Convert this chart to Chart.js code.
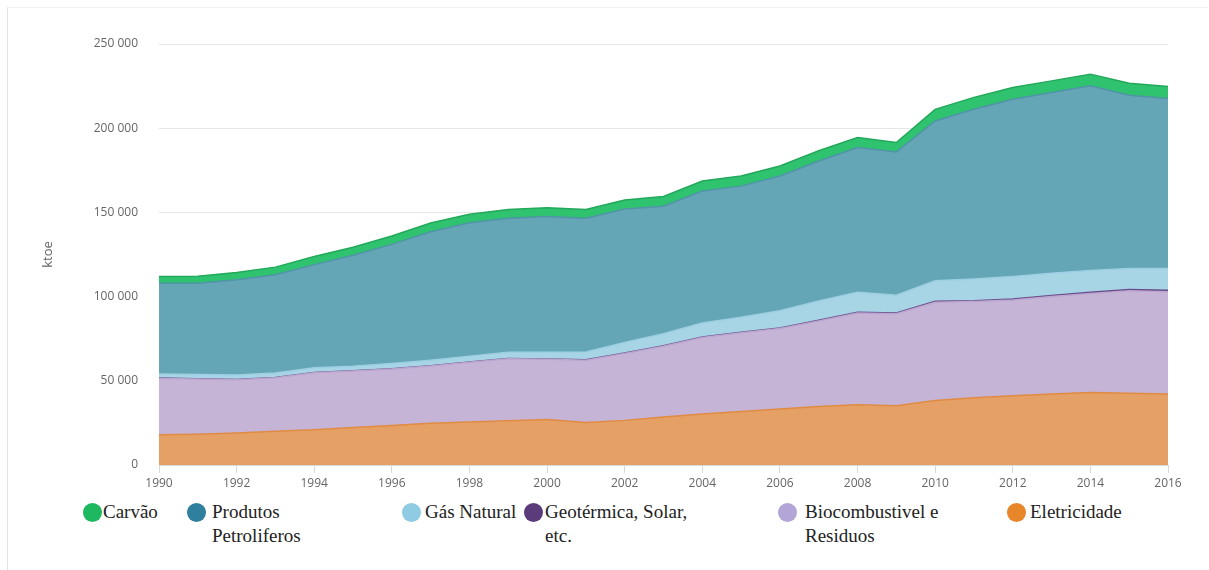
<!DOCTYPE html>
<html>
<head>
<meta charset="utf-8">
<script src="https://cdn.jsdelivr.net/npm/chart.js@4.4.1/dist/chart.umd.min.js"></script>
<style>
	body { margin: 0; background: #fff; }
	#wrap { position: relative; width: 1209px; height: 570px; overflow: hidden; }
	#frame { position: absolute; left: 7px; top: 7px; width: 1300px; height: 700px; border-left: 1px solid #e3e3e3; border-top: 1px solid #f2f2f2; }
	#box { position: absolute; left: 0; top: 0; width: 1209px; height: 495px; }
	.item { position: absolute; top: 500px; font-family: "Liberation Serif", "Times New Roman", serif; font-size: 19px; line-height: 24px; color: #222; }
	.dot { position: absolute; left: 0; top: 3px; width: 19px; height: 19px; border-radius: 50%; }
	.txt { position: absolute; top: 0; }
</style>
</head>
<body>
<div id="wrap">
	<div id="frame"></div>
	<div id="box"><canvas id="grafik-energia"></canvas></div>
	<div id="legend"></div>
</div>
<script>
// anos 1990 - 2016, valores em ktoe
const years = [1990,1991,1992,1993,1994,1995,1996,1997,1998,1999,2000,2001,2002,2003,2004,2005,2006,2007,2008,2009,2010,2011,2012,2013,2014,2015,2016];
const eletricidade = [17900,18300,19000,20000,21000,22300,23500,24800,25600,26300,27000,25200,26500,28500,30300,31800,33200,34800,35800,35200,38300,40000,41100,42100,43000,42600,42100];
const biocombustivel = [33500,32700,31600,31800,33800,33500,33500,34000,35400,36800,35800,37000,39700,42000,45400,46700,47800,50700,54500,54600,58400,57100,56900,57900,58900,60800,60800];
const geotermica = [200,200,200,200,200,200,200,200,200,200,200,300,300,300,300,300,400,400,400,500,500,500,600,600,700,800,900];
const gasNatural = [2500,2500,2600,2700,2800,2700,3000,3200,3400,3600,4000,4600,6300,7200,8300,9000,10200,11500,11900,10500,12200,12900,13300,13200,12900,12500,12900];
const petroliferos = [53900,54300,56600,58300,61200,65800,70800,76300,79200,79600,80500,79400,79200,75700,78400,77800,80000,83100,85900,85100,94900,100800,105300,107400,109700,102900,101000];
const carvao = [4000,4100,4300,4500,4800,4800,5000,5200,5100,5200,5300,5200,5300,5800,5900,6000,6000,6100,6000,5600,6900,7000,7000,6900,6900,7100,7100];
const yTicks = [0,50000,100000,150000,200000,250000];

// ordem de empilhamento (de baixo para cima)
const series = [
	{name: 'Eletricidade', data: eletricidade, fill: '#e5a066', line: '#e08b42', dot: '#e8862a'},
	{name: 'Biocombustivel e Residuos', data: biocombustivel, fill: '#c6b4d6', line: '#b9a6cf', dot: '#b3a6d6'},
	{name: 'Geotérmica, Solar, etc.', data: geotermica, fill: '#5e3c7e', line: '#6a4b8a', dot: '#5b3b7a'},
	{name: 'Gás Natural', data: gasNatural, fill: '#a8d5e5', line: '#9dcfe2', dot: '#8fcbe3'},
	{name: 'Produtos Petroliferos', data: petroliferos, fill: '#64a5b6', line: '#4f94a7', dot: '#2f7f9f'},
	{name: 'Carvão', data: carvao, fill: '#30c36f', line: '#22a85a', dot: '#1db85f'}
];

// legenda (ordem invertida), posição e largura do texto
const legendLeft = [83, 187, 402, 524, 778, 1007];
const legendTextLeft = [20, 25, 23, 21, 27, 23];
const legendTextWidth = [80, 95, 110, 160, 145, 130];

fmt=(v)=>String(v).replace(/\B(?=(\d{3})+(?!\d))/g, ' ');

make_legend=()=>{
	const el = document.getElementById('legend');
	series.slice().reverse().forEach((s, i) => {
		const item = document.createElement('div');
		item.className = 'item';
		item.style.left = legendLeft[i] + 'px';
		item.innerHTML = '<span class="dot" style="background:' + s.dot + '"></span>' +
			'<span class="txt" style="left:' + legendTextLeft[i] + 'px;width:' + legendTextWidth[i] + 'px">' + s.name + '</span>';
		el.appendChild(item);
	});
}

make_chart=()=>{
	const ctx = document.getElementById('grafik-energia');
	new Chart(ctx, {
		type: 'line',
		data: {
			labels: years,
			datasets: series.map((s, i) => ({
				label: s.name,
				data: s.data,
				fill: i == 0 ? 'origin' : '-1',
				backgroundColor: s.fill,
				borderColor: s.line,
				borderWidth: 1.5,
				pointRadius: 0,
				tension: 0
			}))
		},
		options: {
			responsive: true,
			maintainAspectRatio: false,
			animation: false,
			layout: { padding: { top: 44, right: 41, left: 36, bottom: 0 } },
			plugins: {
				legend: { display: false },
				tooltip: { enabled: false }
			},
			scales: {
				x: {
					grid: { drawOnChartArea: false, drawTicks: true, tickLength: 8, color: '#d9d9d9' },
					border: { color: '#d9d9d9' },
					ticks: {
						autoSkip: false,
						maxRotation: 0,
						padding: 3,
						color: '#666',
						font: { family: 'Open Sans', size: 12 },
						callback: function (value, index) {
							return index % 2 == 0 ? this.getLabelForValue(value) : null;
						}
					},
					afterFit: (scale) => { scale.height = 30; }
				},
				y: {
					stacked: true,
					min: 0,
					max: 250000,
					afterBuildTicks: (scale) => { scale.ticks = yTicks.map(v => ({value: v})); },
					grid: { color: '#e6e6e6', drawTicks: false },
					border: { display: false },
					ticks: {
						padding: 21,
						color: '#666',
						font: { family: 'Open Sans', size: 12 },
						callback: (v) => fmt(v)
					},
					title: {
						display: true,
						text: 'ktoe',
						color: '#666',
						font: { family: 'Open Sans', size: 13 }
					},
					afterFit: (scale) => { scale.width = 123; }
				}
			}
		}
	});
}

make_legend();
make_chart();
</script>
</body>
</html>
